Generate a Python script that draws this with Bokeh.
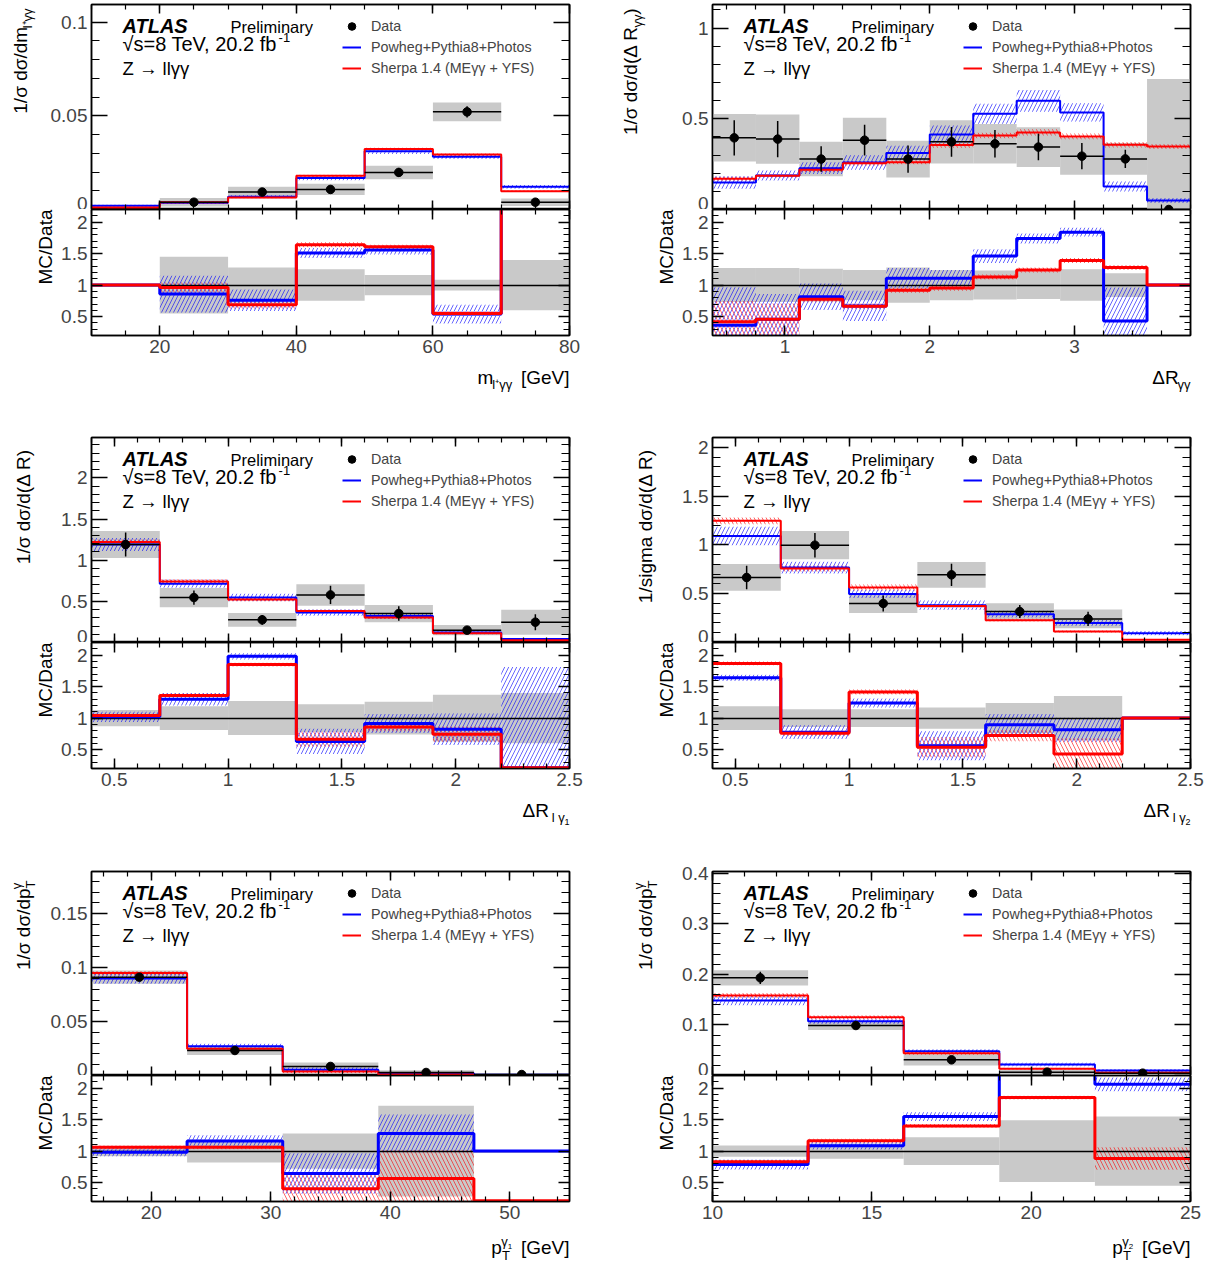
import math
import numpy as np
from bokeh.plotting import figure
from bokeh.models import (Range1d, LinearAxis, SingleIntervalTicker, PrintfTickFormatter,
                          Legend, LegendItem)
from bokeh.core.properties import value
from bokeh.layouts import row, column
from bokeh.embed import file_html
from bokeh.resources import INLINE

FONT = "Liberation Sans"
BLUE = "#0000ff"
RED = "#ff0000"
GRAY = "#c9c9c9"

# ---------------- data ----------------
# Panel 1: m_{l+yy}
P1_EDGES = [10, 20, 30, 40, 50, 60, 70, 80]
P1_DATA = [np.nan, 0.0039, 0.0093, 0.0107, 0.0198, 0.0521, 0.0039]
P1_DATA_ERR = [np.nan, 0.0013, 0.0017, 0.0020, 0.0024, 0.0030, 0.0014]
P1_DATA_SYS = [np.nan, 0.0023, 0.0029, 0.0030, 0.0036, 0.0050, 0.0020]
P1_PW = [0.0020, 0.0036, 0.0068, 0.0168, 0.0311, 0.0282, 0.0121]
P1_PW_ERR = [0.0005, 0.0007, 0.0008, 0.0012, 0.0015, 0.0012, 0.0010]
P1_SH = [0.0011, 0.0039, 0.0064, 0.0180, 0.0323, 0.0293, 0.0098]
P1_SH_ERR = [0.0003, 0.0005, 0.0005, 0.0006, 0.0007, 0.0006, 0.0005]
P1_R_PW = [1.0, 0.857, 0.76, 1.51, 1.556, 0.54, 3.1]
P1_R_PW_ERR = [0.0, 0.29, 0.17, 0.08, 0.07, 0.15, 0.0]
P1_R_SH = [1.0, 0.963, 0.687, 1.64, 1.61, 0.55, 2.5]
P1_R_SH_ERR = [0.0, 0.08, 0.06, 0.04, 0.03, 0.04, 0.0]
P1_R_BAND = [0.0, 0.45, 0.28, 0.25, 0.16, 0.085, 0.40]

# Panel 2: dR_yy
P2_EDGES = [0.5, 0.8, 1.1, 1.4, 1.7, 2.0, 2.3, 2.6, 2.9, 3.2, 3.5, 3.8]
P2_DATA = [0.395, 0.388, 0.278, 0.382, 0.278, 0.373, 0.362, 0.344, 0.294, 0.279, 0.0]
P2_DATA_ERR = [0.097, 0.100, 0.070, 0.085, 0.075, 0.082, 0.076, 0.073, 0.072, 0.050, 0.0]
P2_DATA_SYS = [0.131, 0.136, 0.095, 0.124, 0.101, 0.119, 0.109, 0.110, 0.103, 0.087, 0.72]
P2_PW = [0.149, 0.1875, 0.228, 0.259, 0.311, 0.414, 0.528, 0.599, 0.535, 0.127, 0.050]
P2_PW_ERR = [0.035, 0.028, 0.032, 0.040, 0.040, 0.049, 0.055, 0.060, 0.050, 0.028, 0.014]
P2_SH = [0.169, 0.186, 0.219, 0.255, 0.261, 0.355, 0.408, 0.425, 0.4026, 0.357, 0.347]
P2_SH_ERR = [0.012, 0.010, 0.012, 0.012, 0.012, 0.015, 0.015, 0.017, 0.016, 0.015, 0.014]
P2_R_PW = [0.364, 0.459, 0.814, 0.67, 1.11, 1.11, 1.46, 1.74, 1.84, 0.43, 1.0]
P2_R_PW_ERR = [0.60, 0.40, 0.21, 0.24, 0.16, 0.13, 0.11, 0.08, 0.07, 0.53, 0.0]
P2_R_SH = [0.417, 0.459, 0.777, 0.666, 0.92, 0.952, 1.13, 1.24, 1.39, 1.28, 1.0]
P2_R_SH_ERR = [0.33, 0.25, 0.05, 0.04, 0.04, 0.04, 0.04, 0.04, 0.04, 0.04, 0.0]
P2_R_BAND = [0.27, 0.27, 0.26, 0.24, 0.28, 0.24, 0.23, 0.22, 0.25, 0.19, 0.0]

# Panel 3: dR_{l y1}
P3_EDGES = [0.4, 0.7, 1.0, 1.3, 1.6, 1.9, 2.2, 2.5]
P3_DATA = [1.19, 0.546, 0.275, 0.578, 0.352, 0.150, 0.247]
P3_DATA_ERR = [0.145, 0.087, 0.059, 0.111, 0.089, 0.032, 0.097]
P3_DATA_SYS = [0.164, 0.117, 0.083, 0.131, 0.105, 0.063, 0.152]
P3_PW = [1.19, 0.715, 0.546, 0.364, 0.323, 0.121, 0.044]
P3_PW_ERR = [0.080, 0.050, 0.045, 0.040, 0.036, 0.020, 0.010]
P3_SH = [1.22, 0.740, 0.521, 0.384, 0.303, 0.113, 0.028]
P3_SH_ERR = [0.030, 0.030, 0.020, 0.015, 0.015, 0.010, 0.005]
P3_R_PW = [1.02, 1.30, 1.98, 0.63, 0.915, 0.825, 0.21]
P3_R_PW_ERR = [0.08, 0.10, 0.05, 0.20, 0.15, 0.25, 1.60]
P3_R_SH = [1.04, 1.36, 1.85, 0.665, 0.86, 0.745, 0.21]
P3_R_SH_ERR = [0.03, 0.03, 0.03, 0.12, 0.07, 0.12, 0.0]
P3_R_BAND = [0.13, 0.19, 0.27, 0.22, 0.26, 0.37, 0.40]

# Panel 4: dR_{l y2}
P4_EDGES = [0.4, 0.7, 1.0, 1.3, 1.6, 1.9, 2.2, 2.5]
P4_DATA = [0.666, 0.997, 0.400, 0.693, 0.317, 0.242, np.nan]
P4_DATA_ERR = [0.120, 0.125, 0.082, 0.114, 0.067, 0.072, np.nan]
P4_DATA_SYS = [0.137, 0.145, 0.099, 0.131, 0.085, 0.096, np.nan]
P4_PW = [1.09, 0.768, 0.498, 0.382, 0.290, 0.200, 0.095]
P4_PW_ERR = [0.095, 0.060, 0.043, 0.048, 0.034, 0.031, 0.022]
P4_SH = [1.246, 0.758, 0.563, 0.375, 0.229, 0.113, 0.027]
P4_SH_ERR = [0.034, 0.030, 0.030, 0.020, 0.015, 0.010, 0.005]
P4_R_PW = [1.64, 0.777, 1.24, 0.56, 0.894, 0.814, 1.0]
P4_R_PW_ERR = [0.05, 0.11, 0.07, 0.23, 0.17, 0.19, 0.0]
P4_R_SH = [1.867, 0.76, 1.415, 0.537, 0.723, 0.43, 1.0]
P4_R_SH_ERR = [0.03, 0.04, 0.04, 0.16, 0.09, 0.25, 0.0]
P4_R_BAND = [0.19, 0.14, 0.14, 0.17, 0.24, 0.35, 0.0]

# Panel 5: pT y1
P5_EDGES = [15, 23, 31, 39, 47, 55]
P5_DATA = [0.0912, 0.0232, 0.0084, 0.0028, 0.0009]
P5_DATA_ERR = [0.0035, 0.0020, 0.0010, 0.0006, 0.0004]
P5_DATA_SYS = [0.0062, 0.0041, 0.0037, 0.0020, 0.0006]
P5_PW = [0.0900, 0.0272, 0.0053, 0.0022, 0.0006]
P5_PW_ERR = [0.0050, 0.0023, 0.0023, 0.0008, 0.0002]
P5_SH = [0.0950, 0.0247, 0.0037, 0.0009, 0.0]
P5_SH_ERR = [0.0020, 0.0008, 0.0015, 0.0008, 0.0]
P5_R_PW = [0.98, 1.16, 0.644, 1.28, 1.0]
P5_R_PW_ERR = [0.06, 0.09, 0.32, 0.30, 0.0]
P5_R_SH = [1.06, 1.06, 0.404, 0.564, 0.21]
P5_R_SH_ERR = [0.03, 0.03, 0.25, 0.45, 0.0]
P5_R_BAND = [0.08, 0.18, 0.28, 0.72, 0.0]

# Panel 6: pT y2
P6_EDGES = [10, 13, 16, 19, 22, 25]
P6_DATA = [0.193, 0.0988, 0.031, 0.0066, 0.0046]
P6_DATA_ERR = [0.012, 0.006, 0.004, 0.002, 0.0015]
P6_DATA_SYS = [0.015, 0.009, 0.011, 0.005, 0.004]
P6_PW = [0.148, 0.107, 0.048, 0.0217, 0.0099]
P6_PW_ERR = [0.009, 0.005, 0.004, 0.0033, 0.003]
P6_SH = [0.158, 0.115, 0.044, 0.0132, 0.0053]
P6_SH_ERR = [0.005, 0.004, 0.003, 0.002, 0.002]
P6_R_PW = [0.787, 1.085, 1.548, 3.3, 2.06]
P6_R_PW_ERR = [0.08, 0.06, 0.07, 0.0, 0.11]
P6_R_SH = [0.83, 1.165, 1.40, 1.85, 0.883]
P6_R_SH_ERR = [0.03, 0.03, 0.03, 0.03, 0.18]
P6_R_BAND = [0.09, 0.12, 0.22, 0.49, 0.55]

LEGEND_LABELS = ["Data", "Powheg+Pythia8+Photos", "Sherpa 1.4 (MEγγ + YFS)"]

# ---------------- text helpers ----------------
CW = {' ': .278, '!': .278, '(': .333, ')': .333, '+': .584, ',': .278, '-': .333, '.': .278,
      '/': .278, '=': .584, '[': .278, ']': .278,
      'A': .667, 'B': .667, 'C': .722, 'D': .722, 'E': .667, 'F': .611, 'G': .778, 'H': .722,
      'I': .278, 'L': .556, 'M': .833, 'P': .667, 'R': .722, 'S': .667, 'T': .611, 'V': .667,
      'Y': .667, 'Z': .611,
      'a': .556, 'b': .556, 'c': .5, 'd': .556, 'e': .556, 'f': .278, 'g': .556, 'h': .556,
      'i': .222, 'l': .222, 'm': .833, 'n': .556, 'o': .556, 'p': .556, 'r': .333, 's': .5,
      't': .278, 'u': .556, 'w': .722, 'y': .5,
      'σ': .56, 'γ': .47, 'Δ': .65, '√': .50, '→': 1.0, '⁺': .33}
for ch in "0123456789":
    CW[ch] = .556

MID = 0.35   # distance from the alphabetic baseline to the text's middle, in em


def tw(s, size):
    return sum(CW.get(c, .556) for c in s) * size * 0.97


def txt(p, x, y, text, size, align="left", angle=0.0, style="normal"):
    p.text(x=[x], y=[y], text=[text], angle=angle, text_font=value(FONT),
           text_font_size=value(f"{size}px"), text_font_style=style,
           text_align=align, text_baseline="middle", text_color="black")


def rich(p, X, Y, pieces, vertical=False, align="left", conv=None, style="normal"):
    """pieces: (text, size, baseline shift px, advances?). X, Y: baseline anchor in px (y up)."""
    def put(text, size, shift, a, al):
        s = shift + MID * size
        if vertical:
            px, py = X - s, Y + a
        else:
            px, py = X + a, Y + s
        if conv is not None:
            px, py = conv(px, py)
        txt(p, px, py, text, size, align=al, angle=(math.pi / 2 if vertical else 0.0), style=style)

    if align == "left":
        pos = 0.0
        for text, size, shift, adv in pieces:
            body = text.lstrip()
            lead = tw(text[:len(text) - len(body)], size)
            put(body, size, shift, pos + lead, "left")
            if adv:
                pos += tw(text, size)
    else:
        pos = 0.0
        for text, size, shift, adv in reversed(pieces):
            if adv:
                put(text.strip(), size, shift, pos, "right")
                pos -= tw(text, size)
            else:
                put(text.strip(), size, shift, pos, "left")


def axis(interval, nminor, show, maj, mnr):
    kw = dict(ticker=SingleIntervalTicker(interval=interval, num_minor_ticks=nminor),
              formatter=PrintfTickFormatter(format="%.4g"),
              major_tick_in=maj, major_tick_out=0, minor_tick_in=mnr, minor_tick_out=0,
              axis_line_width=1.5, axis_line_color="black",
              major_tick_line_width=1.5, minor_tick_line_width=1.2,
              major_label_text_font=FONT, major_label_text_font_size="19px",
              major_label_standoff=4)
    if not show:
        kw.update(major_label_text_color=None, major_label_standoff=0)
    return LinearAxis(**kw)


# ---------------- layout constants ----------------
FRAME_W = 478
COL_L = [91, 121]          # space left of the frame
COL_R = [22, 20]           # space right of the frame
AUX_MAIN = [46, 70]        # width of y-title strip beside the main pad
AUX_RATIO = [58, 88]       # width of y-title strip beside the ratio pad
ROW_TOP = [4, 12, 12]
ROW_MAIN_H = [205, 205, 204]
RATIO_H = 126
RATIO_BOT = 30
ROW_GAP = [60, 61, 35]     # strip below the ratio pad holding the x title
ROW_XT = [41, 42, 12]      # x title baseline inside that strip (from its bottom)

SUB = -5
PANELS = [
    dict(edges=P1_EDGES, data=P1_DATA, derr=P1_DATA_ERR, dsys=P1_DATA_SYS, pw=P1_PW, pwe=P1_PW_ERR,
         sh=P1_SH, she=P1_SH_ERR, rpw=P1_R_PW, rpwe=P1_R_PW_ERR, rsh=P1_R_SH, rshe=P1_R_SH_ERR,
         band=P1_R_BAND, ymax=0.1094, yint=0.05, xint=20, xminor=4,
         ytitle=[("1/σ dσ/dm", 19, 0, True), ("l⁺γγ", 13, SUB, True)], ytx=-64,
         xtitle=[("m", 19, 0, True), ("l⁺γγ", 13, SUB, True), ("  [GeV]", 19, 0, True)]),
    dict(edges=P2_EDGES, data=P2_DATA, derr=P2_DATA_ERR, dsys=P2_DATA_SYS, pw=P2_PW, pwe=P2_PW_ERR,
         sh=P2_SH, she=P2_SH_ERR, rpw=P2_R_PW, rpwe=P2_R_PW_ERR, rsh=P2_R_SH, rshe=P2_R_SH_ERR,
         band=P2_R_BAND, ymax=1.13, yint=0.5, xint=1, xminor=5,
         ytitle=[("1/σ dσ/d(Δ R", 19, 0, True), ("γγ", 13, SUB, True), (")", 19, 0, True)], ytx=-75,
         xtitle=[("ΔR", 19, 0, True), ("γγ", 13, SUB, True)]),
    dict(edges=P3_EDGES, data=P3_DATA, derr=P3_DATA_ERR, dsys=P3_DATA_SYS, pw=P3_PW, pwe=P3_PW_ERR,
         sh=P3_SH, she=P3_SH_ERR, rpw=P3_R_PW, rpwe=P3_R_PW_ERR, rsh=P3_R_SH, rshe=P3_R_SH_ERR,
         band=P3_R_BAND, ymax=2.49, yint=0.5, xint=0.5, xminor=5,
         ytitle=[("1/σ dσ/d(Δ R)", 19, 0, True)], ytx=-61,
         xtitle=[("ΔR", 19, 0, True), (" l γ", 13, SUB, True), ("1", 9, -8, True)]),
    dict(edges=P4_EDGES, data=P4_DATA, derr=P4_DATA_ERR, dsys=P4_DATA_SYS, pw=P4_PW, pwe=P4_PW_ERR,
         sh=P4_SH, she=P4_SH_ERR, rpw=P4_R_PW, rpwe=P4_R_PW_ERR, rsh=P4_R_SH, rshe=P4_R_SH_ERR,
         band=P4_R_BAND, ymax=2.10, yint=0.5, xint=0.5, xminor=5,
         ytitle=[("1/sigma dσ/d(Δ R)", 19, 0, True)], ytx=-60,
         xtitle=[("ΔR", 19, 0, True), (" l γ", 13, SUB, True), ("2", 9, -8, True)]),
    dict(edges=P5_EDGES, data=P5_DATA, derr=P5_DATA_ERR, dsys=P5_DATA_SYS, pw=P5_PW, pwe=P5_PW_ERR,
         sh=P5_SH, she=P5_SH_ERR, rpw=P5_R_PW, rpwe=P5_R_PW_ERR, rsh=P5_R_SH, rshe=P5_R_SH_ERR,
         band=P5_R_BAND, ymax=0.1892, yint=0.05, xint=10, xminor=5,
         ytitle=[("1/σ dσ/dp", 19, 0, True), ("T", 13, -5, False), ("γ", 13, 9, True)], ytx=-61,
         xtitle=[("p", 19, 0, True), ("T", 13, -6, False), ("γ", 13, 8, True), ("1", 8, 5, True),
                 ("  [GeV]", 19, 0, True)]),
    dict(edges=P6_EDGES, data=P6_DATA, derr=P6_DATA_ERR, dsys=P6_DATA_SYS, pw=P6_PW, pwe=P6_PW_ERR,
         sh=P6_SH, she=P6_SH_ERR, rpw=P6_R_PW, rpwe=P6_R_PW_ERR, rsh=P6_R_SH, rshe=P6_R_SH_ERR,
         band=P6_R_BAND, ymax=0.4032, yint=0.1, xint=5, xminor=5,
         ytitle=[("1/σ dσ/dp", 19, 0, True), ("T", 13, -5, False), ("γ", 13, 9, True)], ytx=-60,
         xtitle=[("p", 19, 0, True), ("T", 13, -6, False), ("γ", 13, 8, True), ("2", 8, 5, True),
                 ("  [GeV]", 19, 0, True)]),
]


def fig(w, h, xr, yr, lb, rb, tb, bb):
    p = figure(width=w, height=h, x_range=xr, y_range=yr, x_axis_location=None,
               y_axis_location=None, output_backend="svg", toolbar_location=None,
               min_border_left=lb, min_border_right=rb, min_border_top=tb, min_border_bottom=bb,
               background_fill_color="white", border_fill_color="white",
               outline_line_color="black", outline_line_width=1.5)
    p.grid.visible = False
    return p


def strip(w, h):
    p = figure(width=w, height=h, x_range=Range1d(0, w), y_range=Range1d(0, h),
               x_axis_location=None, y_axis_location=None, output_backend="svg",
               toolbar_location=None, min_border=0, outline_line_color=None,
               background_fill_color="white", border_fill_color="white")
    p.grid.visible = False
    return p


def hatch_quads(p, lo, hi, vals, errs, color, pattern):
    p.quad(left=lo, right=hi, bottom=vals - errs, top=vals + errs, fill_color=None,
           line_color=None, hatch_pattern=pattern, hatch_color=color, hatch_scale=8,
           hatch_weight=0.8, hatch_alpha=0.75)


def build(spec, col, rw):
    L, R = COL_L[col], COL_R[col]
    am, ar = AUX_MAIN[col], AUX_RATIO[col]
    tb, mh = ROW_TOP[rw], ROW_MAIN_H[rw]
    edges = np.array(spec["edges"], float)
    lo, hi = edges[:-1], edges[1:]
    xc = (lo + hi) / 2
    x0, x1 = edges[0], edges[-1]
    xr = Range1d(x0, x1)
    ymax = spec["ymax"]

    data = np.array(spec["data"], float)
    derr = np.array(spec["derr"], float)
    dsys = np.array(spec["dsys"], float)
    pw = np.array(spec["pw"], float)
    pwe = np.array(spec["pwe"], float)
    sh = np.array(spec["sh"], float)
    she = np.array(spec["she"], float)

    # ---------- main pad ----------
    pm = fig(L - am + FRAME_W + R, tb + mh, xr, Range1d(0, ymax), L - am, R, tb, 0)
    pm.add_layout(axis(spec["yint"], 5, True, 16, 8), "left")
    pm.add_layout(axis(spec["yint"], 5, False, 16, 8), "right")
    pm.add_layout(axis(spec["xint"], spec["xminor"], False, 9, 5), "above")
    pm.add_layout(axis(spec["xint"], spec["xminor"], False, 9, 5), "below")

    pm.quad(left=lo, right=hi, bottom=data - dsys, top=data + dsys, fill_color=GRAY, line_color=None)
    hatch_quads(pm, lo, hi, pw, pwe, BLUE, "/")
    hatch_quads(pm, lo, hi, sh, she, RED, "\\")
    r_pw = pm.step(x=edges, y=np.append(pw, pw[-1]), mode="after", line_color=BLUE, line_width=2)
    r_sh = pm.step(x=edges, y=np.append(sh, sh[-1]), mode="after", line_color=RED, line_width=2)
    pm.segment(x0=lo, y0=data, x1=hi, y1=data, line_color="black", line_width=1.5)
    pm.segment(x0=xc, y0=data - derr, x1=xc, y1=data + derr, line_color="black", line_width=1.5)
    r_d = pm.scatter(x=xc, y=data, size=8.5, color="black")

    leg = Legend(items=[LegendItem(label=LEGEND_LABELS[0], renderers=[r_d]),
                        LegendItem(label=LEGEND_LABELS[1], renderers=[r_pw]),
                        LegendItem(label=LEGEND_LABELS[2], renderers=[r_sh])],
                 location=(251, mh - 12 - 62), border_line_color=None,
                 background_fill_alpha=0, label_text_font=FONT, label_text_font_size="14.3px",
                 glyph_width=19, glyph_height=20, label_height=20, label_standoff=10,
                 spacing=1, padding=0, margin=0)
    pm.add_layout(leg)

    sx = (x1 - x0) / FRAME_W
    sy = ymax / mh

    def conv(px, py):
        return x0 + px * sx, py * sy

    top = mh
    rich(pm, 31, top - 28, [("ATLAS", 20, 0, True)], conv=conv, style="bold italic")
    rich(pm, 139, top - 28, [("Preliminary", 16.5, 0, True)], conv=conv)
    rich(pm, 31, top - 46, [("√s=8 TeV, 20.2 fb", 20, 0, True), (" -1", 13, 8, True)], conv=conv)
    rich(pm, 31, top - 70, [("Z → llγγ", 18.5, 0, True)], conv=conv)

    am_fig = strip(am, tb + mh)
    rich(am_fig, L + spec["ytx"], mh, spec["ytitle"], vertical=True, align="right")

    # ---------- ratio pad ----------
    rpw = np.array(spec["rpw"], float)
    rpwe = np.array(spec["rpwe"], float)
    rsh = np.array(spec["rsh"], float)
    rshe = np.array(spec["rshe"], float)
    band = np.array(spec["band"], float)

    pr = fig(L - ar + FRAME_W + R, RATIO_H + RATIO_BOT, xr, Range1d(0.2, 2.2), L - ar, R, 0, RATIO_BOT)
    pr.add_layout(axis(0.5, 5, True, 11, 6), "left")
    pr.add_layout(axis(0.5, 5, False, 11, 6), "right")
    pr.add_layout(axis(spec["xint"], spec["xminor"], False, 10, 5), "above")
    pr.add_layout(axis(spec["xint"], spec["xminor"], True, 10, 5), "below")

    pr.quad(left=lo, right=hi, bottom=1 - band, top=1 + band, fill_color=GRAY, line_color=None)
    hatch_quads(pr, lo, hi, rpw, rpwe, BLUE, "/")
    hatch_quads(pr, lo, hi, rsh, rshe, RED, "\\")
    pr.hspan(y=[1.0], line_color="black", line_width=1.5)
    pr.step(x=edges, y=np.append(rpw, rpw[-1]), mode="after", line_color=BLUE, line_width=3)
    pr.step(x=edges, y=np.append(rsh, rsh[-1]), mode="after", line_color=RED, line_width=3)

    ar_fig = strip(ar, RATIO_H + RATIO_BOT)
    rich(ar_fig, L - 39, RATIO_H + RATIO_BOT, [("MC/Data", 19, 0, True)], vertical=True, align="right")

    # ---------- x title strip ----------
    xt = strip(L + FRAME_W + R, ROW_GAP[rw])
    rich(xt, L + FRAME_W, ROW_XT[rw], spec["xtitle"], align="right")

    return column(row(am_fig, pm), row(ar_fig, pr), xt)


rows = []
for rw in range(3):
    cols = [build(PANELS[rw * 2 + c], c, rw) for c in range(2)]
    rows.append(row(*cols))
layout = column(*rows)

open("out.html", "w").write(file_html(layout, INLINE, title="ATLAS Z->llyy"))
